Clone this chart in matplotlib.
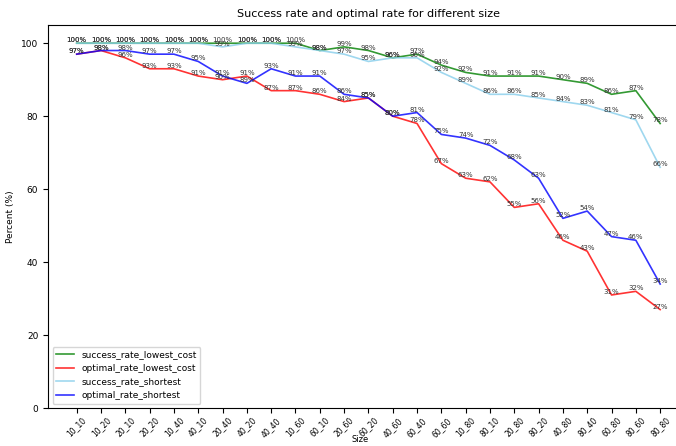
import numpy as np
from matplotlib import pyplot as plt

sizes = ['10_10', '10_20', '20_10', '20_20', '10_40', '40_10', '20_40', '40_20',
         '40_40', '10_60', '60_10', '20_60', '60_20', '40_60', '60_40', '60_60',
         '10_80', '80_10', '20_80', '80_20', '40_80', '80_40', '60_80', '80_60', '80_80']

success_lowest = [100, 100, 100, 100, 100, 100, 100, 100, 100, 100, 98, 99, 98,
                  96, 97, 94, 92, 91, 91, 91, 90, 89, 86, 87, 78]
optimal_lowest = [97, 98, 96, 93, 93, 91, 90, 91, 87, 87, 86, 84, 85,
                  80, 78, 67, 63, 62, 55, 56, 46, 43, 31, 32, 27]
success_shortest = [100, 100, 100, 100, 100, 100, 99, 100, 100, 99, 98, 97, 95,
                    96, 96, 92, 89, 86, 86, 85, 84, 83, 81, 79, 66]
optimal_shortest = [97, 98, 98, 97, 97, 95, 91, 89, 93, 91, 91, 86, 85,
                    80, 81, 75, 74, 72, 68, 63, 52, 54, 47, 46, 34]

series = [('success_rate_lowest_cost', success_lowest, 'green'),
          ('optimal_rate_lowest_cost', optimal_lowest, 'red'),
          ('success_rate_shortest', success_shortest, 'skyblue'),
          ('optimal_rate_shortest', optimal_shortest, 'blue')]

fig = plt.figure(figsize=(6.76, 4.46), dpi=100)
ax = fig.add_axes([0.071, 0.085, 0.948, 0.859])

x = np.arange(len(sizes))
for name, vals, col in series:
    ax.plot(x, vals, color=col, alpha=0.8, linewidth=1.2, label=name)
    for xi, v in zip(x, vals):
        ax.text(xi, v, '%d%%' % v, ha='center', va='bottom', fontsize=5, color='#333333')

ax.set_xlim(-1.18, 25.18)
ax.set_ylim(0, 105)
ax.set_xticks(x)
ax.set_xticklabels(sizes, rotation=45, fontsize=5.5)
ax.tick_params(axis='x', pad=2)
ax.tick_params(axis='y', labelsize=6.5)
ax.set_yticks([0, 20, 40, 60, 80, 100])
ax.set_xlabel('Size', fontsize=6)
ax.xaxis.set_label_coords(0.487, -0.071)
ax.set_ylabel('Percent (%)', fontsize=6.5)
ax.set_title('Success rate and optimal rate for different size', fontsize=8)
ax.legend(loc='lower left', fontsize=6.5)

plt.savefig('out.png')
